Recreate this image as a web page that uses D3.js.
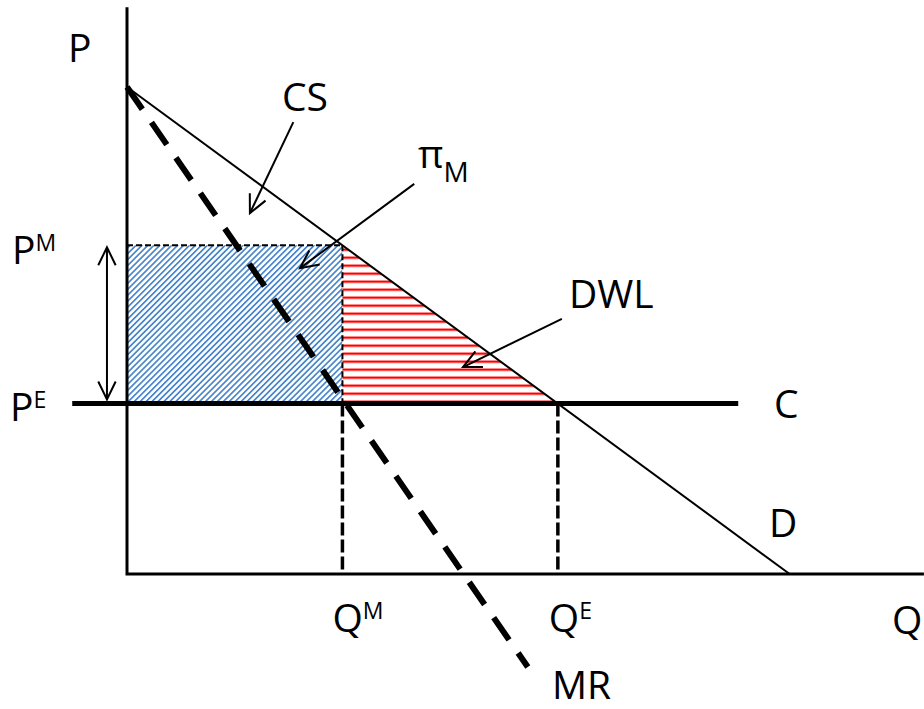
<!DOCTYPE html>
<html>
<head>
<meta charset="utf-8">
<script src="https://cdn.jsdelivr.net/npm/d3@7"></script>
<style>
  html, body { margin: 0; padding: 0; background: #fff; }
  svg text { font-family: "Open Sans", sans-serif; fill: #000; }
</style>
</head>
<body>
<div id="chart"></div>
<script>
// monopoly diagram: values in price / quantity units
var demand = [{q: 0, p: 10}, {q: 9.92, p: 0}];
var marginalRevenue = [{q: 0, p: 10}, {q: 6.0, p: -1.91}];
var costLine = [{q: -0.82, p: 3.5}, {q: 9.15, p: 3.5}];
var qM = 3.225, pM = 6.75;
var qE = 6.45, pE = 3.5;
var qMax = 11.93, pMax = 11.64;

var W = 924, H = 709;
var svg = d3.select("#chart").append("svg").attr("width", W).attr("height", H);

var x = d3.scaleLinear().domain([0, 10]).range([127, 795]);
var y = d3.scaleLinear().domain([0, 10]).range([574, 87]);

var defs = svg.append("defs");
// blue diagonal hatch
var blue = defs.append("pattern")
    .attr("id", "blueHatch")
    .attr("patternUnits", "userSpaceOnUse")
    .attr("width", 4.2).attr("height", 4.2)
    .attr("patternTransform", "rotate(45)");
blue.append("rect").attr("width", 4.2).attr("height", 4.2).attr("fill", "#fff");
blue.append("rect").attr("width", 1.7).attr("height", 4.2).attr("fill", "#4a86cc");

// red horizontal hatch
var red = defs.append("pattern")
    .attr("id", "redHatch")
    .attr("patternUnits", "userSpaceOnUse")
    .attr("width", 8).attr("height", 8)
    .attr("y", y(pE) - 3);
red.append("rect").attr("width", 8).attr("height", 8).attr("fill", "#fff");
red.append("rect").attr("width", 8).attr("height", 2.3).attr("fill", "#ff0000");

var line = d3.line().x(function (d) { return x(d.q); }).y(function (d) { return y(d.p); });

// profit rectangle
svg.append("rect")
    .attr("x", x(0)).attr("y", y(pM))
    .attr("width", x(qM) - x(0)).attr("height", y(pE) - y(pM))
    .attr("fill", "url(#blueHatch)");

// deadweight loss triangle (up to where demand meets cost)
var qCross = demand[1].q * (1 - pE / demand[0].p);
svg.append("path")
    .attr("d", line([{q: qM, p: pM}, {q: qM, p: pE}, {q: qCross, p: pE}]) + "Z")
    .attr("fill", "url(#redHatch)");

// thin dashed outline of the profit box
[
    [{q: 0, p: pM}, {q: qM, p: pM}],
    [{q: qM, p: pM}, {q: qM, p: pE}]
].forEach(function (g) {
    svg.append("path").attr("d", line(g))
        .attr("fill", "none").attr("stroke", "#000")
        .attr("stroke-width", 2).attr("stroke-dasharray", "6,3");
});

// heavier dashed drop lines to the Q axis
[
    [{q: qM, p: pE}, {q: qM, p: 0}],
    [{q: qE, p: pE}, {q: qE, p: 0}]
].forEach(function (g) {
    svg.append("path").attr("d", line(g))
        .attr("fill", "none").attr("stroke", "#000")
        .attr("stroke-width", 3.5).attr("stroke-dasharray", "13,4");
});

// demand
svg.append("path").attr("d", line(demand))
    .attr("fill", "none").attr("stroke", "#000").attr("stroke-width", 2);

// marginal revenue
svg.append("path").attr("d", line(marginalRevenue))
    .attr("fill", "none").attr("stroke", "#000")
    .attr("stroke-width", 6).attr("stroke-dasharray", "27,16");

// constant cost
svg.append("path").attr("d", line(costLine))
    .attr("fill", "none").attr("stroke", "#000").attr("stroke-width", 5);

// axes
svg.append("path").attr("d", line([{q: 0, p: pMax}, {q: 0, p: 0}, {q: qMax, p: 0}]))
    .attr("fill", "none").attr("stroke", "#000").attr("stroke-width", 3);

// open arrowheads
function arrow(x1, y1, x2, y2, both) {
    var g = svg.append("g").attr("stroke", "#000").attr("stroke-width", 2).attr("fill", "none");
    g.append("line").attr("x1", x1).attr("y1", y1).attr("x2", x2).attr("y2", y2);
    function head(ax, ay, bx, by) {
        var a = Math.atan2(ay - by, ax - bx), L = 20, s = 0.45;
        g.append("path").attr("d",
            "M" + (ax - L * Math.cos(a - s)) + "," + (ay - L * Math.sin(a - s)) +
            "L" + ax + "," + ay +
            "L" + (ax - L * Math.cos(a + s)) + "," + (ay - L * Math.sin(a + s)));
    }
    head(x2, y2, x1, y1);
    if (both) head(x1, y1, x2, y2);
}
arrow(x(2.49), y(9.28), x(1.84), y(7.41));
arrow(x(4.30), y(8.01), x(2.59), y(6.28));
arrow(x(6.51), y(5.24), x(5.03), y(4.25));
arrow(x(-0.3), y(pM) + 2, x(-0.3), y(pE) - 4, true);

// labels
var fs = 39, sup = 23;
function label(tx, ty, main, sub, subDy) {
    var t = svg.append("text").attr("x", tx).attr("y", ty).attr("font-size", fs).text(main);
    if (sub) t.append("tspan").attr("font-size", sup).attr("dy", subDy).text(sub);
}
label(68, 62, "P");
label(12, y(pM) + 19, "P", "M", -13);
label(10, y(pE) + 17, "P", "E", -13);
label(x(qM) - 10, 632, "Q", "M", -13);
label(x(qE) - 9, 632, "Q", "E", -13);
label(892, 634, "Q");
label(282, 111, "CS");
svg.append("text").attr("x", 418).attr("y", 168).attr("font-size", fs).text("π")
    .append("tspan").attr("font-size", 28).attr("dy", 14).text("M");
label(569, 308, "DWL");
label(774, 418, "C");
label(769, 537, "D");
label(552, 699, "MR");
</script>
</body>
</html>
